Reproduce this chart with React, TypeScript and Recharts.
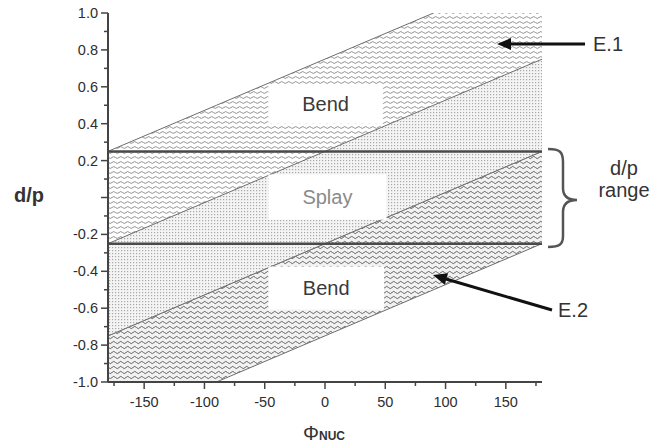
import React from 'react';
import {
  ComposedChart,
  Area,
  Line,
  XAxis,
  YAxis,
  ReferenceLine,
  ReferenceArea,
} from 'recharts';

// ---------------------------------------------------------------------------
// Data
// ---------------------------------------------------------------------------

// breakpoints along Φ_NUC (deg)
const phi = [-180, -90, 90, 180];
// E.1 band (upper bend region)
const e1Top = [0.25, 0.5, 1.0, 1.0];
const e1Bottom = [-0.25, 0, 0.5, 0.75];
// E.2 band (lower bend region); the splay region sits between e1Bottom and e2Top
const e2Top = [-0.75, -0.5, 0, 0.25];
const e2Bottom = [-1.0, -1.0, -0.5, -0.25];

// d/p range limits
const dpRange = [-0.25, 0.25];

const xTicks = [-175, -150, -125, -100, -75, -50, -25, 0, 25, 50, 75, 100, 125, 150, 175];
const xMajor = [-150, -100, -50, 0, 50, 100, 150];
const yTicks = [
  -1.0, -0.9, -0.8, -0.7, -0.6, -0.5, -0.4, -0.3, -0.2, -0.1, 0, 0.1, 0.2, 0.3, 0.4, 0.5,
  0.6, 0.7, 0.8, 0.9, 1.0,
];
const yMajor = [-1.0, -0.8, -0.6, -0.4, -0.2, 0, 0.2, 0.4, 0.6, 0.8, 1.0];
const yUnlabelled = [0];

const Y_MAX = 1;

const rows = phi.map((p, i) => ({
  phi: p,
  e1: [e1Bottom[i], e1Top[i]],
  splay: [e2Top[i], e1Bottom[i]],
  e2: [e2Bottom[i], e2Top[i]],
  // upper edge of E.1, dropped where it runs flat along the top of the plot
  e1Edge: e1Top[i] < Y_MAX || (i > 0 && e1Top[i - 1] < Y_MAX) ? e1Top[i] : null,
}));

const FONT = '"Liberation Sans", Arial, sans-serif';
const AXIS = '#444';
const EDGE = '#6e6e6e';

const near = (list: number[], v: number) => list.some((m) => Math.abs(m - v) < 1e-9);

// ---------------------------------------------------------------------------
// Ticks
// ---------------------------------------------------------------------------

function XTick({ x, y, payload }: any) {
  const v = payload.value as number;
  const major = near(xMajor, v);
  return (
    <g>
      <line x1={x} x2={x} y1={y} y2={y + (major ? 7 : 4)} stroke={AXIS} strokeWidth={1.5} />
      {major && (
        <text x={x} y={y + 25} textAnchor="middle" fontSize={14.5} fill="#2e2e2e" fontFamily={FONT}>
          {v}
        </text>
      )}
    </g>
  );
}

function YTick({ x, y, payload }: any) {
  const v = payload.value as number;
  const major = near(yMajor, v);
  const showLabel = major && !near(yUnlabelled, v);
  return (
    <g>
      <line x1={x} x2={x - (major ? 7 : 4)} y1={y} y2={y} stroke={AXIS} strokeWidth={1.5} />
      {showLabel && (
        <text x={x - 10} y={y + 5} textAnchor="end" fontSize={14.5} fill="#2e2e2e" fontFamily={FONT}>
          {v.toFixed(1)}
        </text>
      )}
    </g>
  );
}

// ---------------------------------------------------------------------------
// Chart
// ---------------------------------------------------------------------------

export default function App() {
  return (
    <div style={{ position: 'absolute', left: 0, top: 0, width: 668, height: 445, background: '#fff' }}>
      <svg width={0} height={0} style={{ position: 'absolute' }}>
        <defs>
          <pattern id="waveLight" width={7} height={5} patternUnits="userSpaceOnUse">
            <rect width={7} height={5} fill="#fff" />
            <path d="M0 2.5 Q1.75 0.6 3.5 2.5 T7 2.5" fill="none" stroke="#858585" strokeWidth={0.9} />
          </pattern>
          <pattern id="waveDark" width={7} height={5} patternUnits="userSpaceOnUse">
            <rect width={7} height={5} fill="#f2f2f2" />
            <path d="M0 2.5 Q1.75 0.2 3.5 2.5 T7 2.5" fill="none" stroke="#666" strokeWidth={1} />
          </pattern>
          <pattern id="dots" width={3} height={3} patternUnits="userSpaceOnUse">
            <rect width={3} height={3} fill="#f4f4f4" />
            <rect x={1} y={1} width={1.2} height={1.2} fill="#a8a8a8" />
          </pattern>
        </defs>
      </svg>

      <ComposedChart
        width={668}
        height={445}
        data={rows}
        margin={{ top: 13, right: 126, bottom: 33, left: 0 }}
      >
        <XAxis
          dataKey="phi"
          type="number"
          domain={[-180, 180]}
          ticks={xTicks}
          interval={0}
          height={30}
          tickSize={0}
          tickMargin={0}
          tickLine={false}
          tick={<XTick />}
          axisLine={{ stroke: AXIS, strokeWidth: 2 }}
          allowDataOverflow
        />
        <YAxis
          type="number"
          domain={[-1, Y_MAX]}
          ticks={yTicks}
          interval={0}
          width={108}
          tickSize={0}
          tickMargin={0}
          tickLine={false}
          tick={<YTick />}
          axisLine={{ stroke: AXIS, strokeWidth: 2 }}
          allowDataOverflow
        />

        <Area
          type="linear"
          dataKey="e1"
          fill="url(#waveLight)"
          fillOpacity={1}
          stroke="none"
          isAnimationActive={false}
        />
        <Area
          type="linear"
          dataKey="e2"
          fill="url(#waveDark)"
          fillOpacity={1}
          stroke={EDGE}
          strokeWidth={1}
          isAnimationActive={false}
        />
        <Area
          type="linear"
          dataKey="splay"
          fill="url(#dots)"
          fillOpacity={1}
          stroke={EDGE}
          strokeWidth={1}
          isAnimationActive={false}
        />
        <Line
          type="linear"
          dataKey="e1Edge"
          stroke={EDGE}
          strokeWidth={1}
          dot={false}
          activeDot={false}
          connectNulls={false}
          isAnimationActive={false}
        />

        <ReferenceArea
          x1={-47}
          x2={48}
          y1={0.4}
          y2={0.61}
          fill="#fff"
          fillOpacity={1}
          stroke="none"
          label={{ value: 'Bend', position: 'center', fill: '#3a3a3a', fontSize: 20, fontFamily: FONT }}
        />
        <ReferenceArea
          x1={-47}
          x2={51}
          y1={-0.12}
          y2={0.125}
          fill="#fff"
          fillOpacity={1}
          stroke="none"
          label={{ value: 'Splay', position: 'center', fill: '#8a8a8a', fontSize: 20, fontFamily: FONT }}
        />
        <ReferenceArea
          x1={-47}
          x2={49}
          y1={-0.607}
          y2={-0.374}
          fill="#fff"
          fillOpacity={1}
          stroke="none"
          label={{ value: 'Bend', position: 'center', fill: '#3a3a3a', fontSize: 20, fontFamily: FONT }}
        />

        {dpRange.map((v) => (
          <ReferenceLine key={v} y={v} stroke="#4a4a4a" strokeWidth={2.5} />
        ))}
      </ComposedChart>

      {/* annotations */}
      <svg
        width={668}
        height={445}
        style={{ position: 'absolute', left: 0, top: 0, pointerEvents: 'none' }}
        fontFamily={FONT}
      >
        <text x={29} y={202} textAnchor="middle" fontSize={20} fontWeight="bold" fill="#333">
          d/p
        </text>
        <text x={303} y={440} fontSize={20} fill="#333">
          Φ
          <tspan fontSize={12} fontWeight="bold">NUC</tspan>
        </text>

        {/* E.1 arrow */}
        <line x1={585} y1={44} x2={508} y2={44} stroke="#111" strokeWidth={3} />
        <polygon points="497,44 511,38 511,50" fill="#111" />
        <text x={593} y={51} fontSize={20} fill="#333">
          E.1
        </text>

        {/* E.2 arrow */}
        <line x1={552} y1={310} x2={446} y2={279} stroke="#111" strokeWidth={3} />
        <polygon points="433,275 444.7,284.7 448.1,273.3" fill="#111" />
        <text x={558} y={317} fontSize={20} fill="#333">
          E.2
        </text>

        {/* d/p range bracket */}
        <path
          d="M548 149 C560 149 563 152 563 162 L563 188 C563 196 567 200 577 200 C567 200 563 204 563 212 L563 236 C563 244 560 247 548 247"
          fill="none"
          stroke="#555"
          strokeWidth={2.5}
        />
        <text x={624} y={175} textAnchor="middle" fontSize={20} fill="#333">
          d/p
        </text>
        <text x={624} y={197} textAnchor="middle" fontSize={20} fill="#333">
          range
        </text>
      </svg>
    </div>
  );
}
